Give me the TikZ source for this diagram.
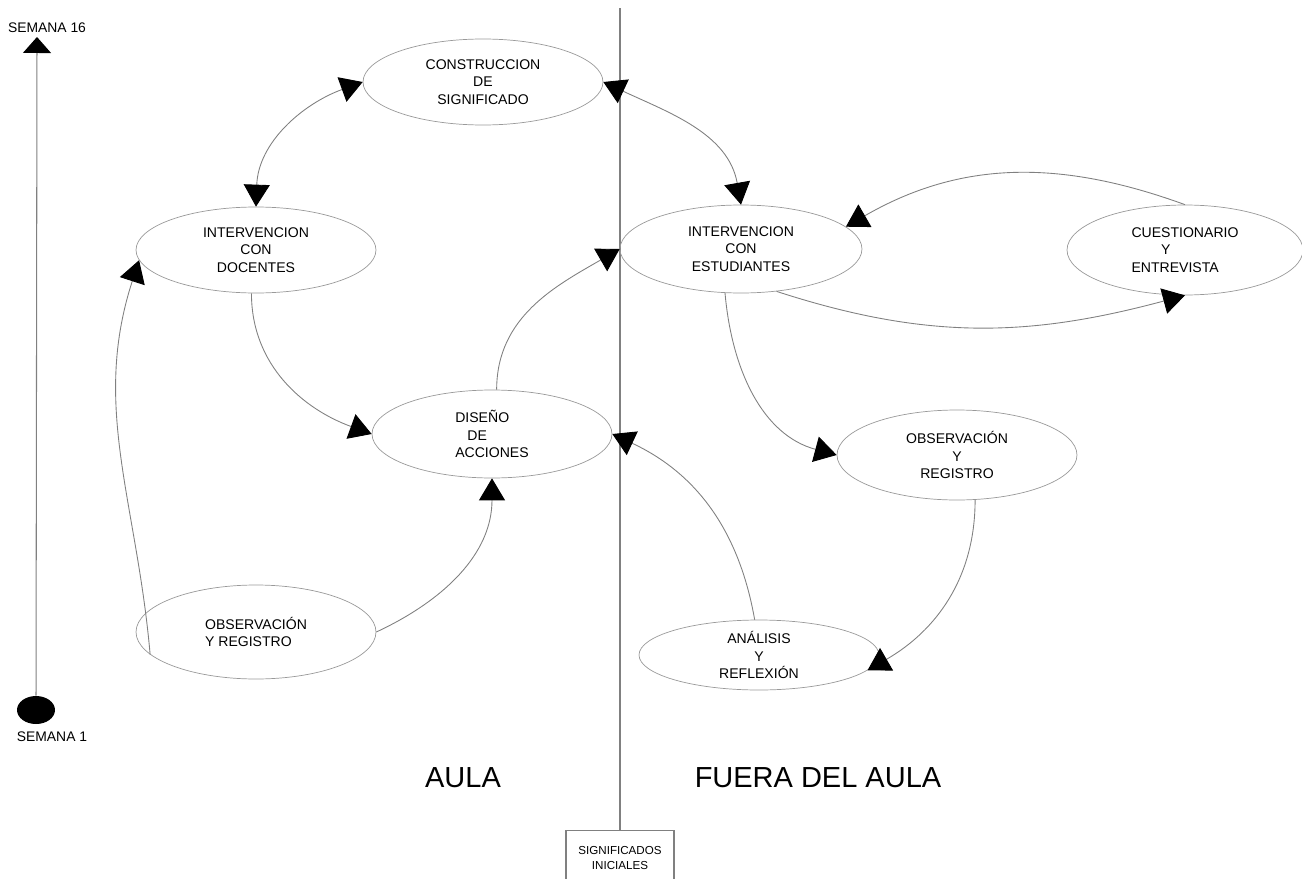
\documentclass[tikz,border=0pt]{standalone}
\usepackage{fontspec}
\setmainfont{Liberation Sans}
\usetikzlibrary{shapes.geometric,arrows.meta}

\begin{document}
\begin{tikzpicture}[x=0.02cm,y=-0.02cm,
  etapa/.style={ellipse, draw=gray!80, line width=0.4pt, minimum width=4.8cm, minimum height=1.72cm, inner sep=0pt, align=center, font=\fontsize{8}{9.8}\selectfont},
  flecha/.style={draw=gray, line width=0.5pt},
  >={Triangle[length=0.44cm,width=0.52cm,color=black]}]

\useasboundingbox (0,0) rectangle (1302,879);

% linea de tiempo
\node[ellipse, fill=black, minimum width=0.76cm, minimum height=0.56cm, inner sep=0pt] (s1) at (36,710) {};
\coordinate (s16) at (37,37);
\draw[gray, line width=0.6pt, -{Triangle[length=0.32cm,width=0.56cm,color=black]}] (s1) -- (s16);
\node[font=\fontsize{7.9}{9.8}\selectfont] (ls16) at (47,28) {SEMANA 16};
\node[font=\fontsize{7.9}{9.8}\selectfont] (ls1) at (52,737) {SEMANA 1};

% division aula / fuera del aula
\node[draw=gray, line width=0.6pt, minimum width=2.16cm, minimum height=1.1cm, align=center, anchor=north, font=\fontsize{6.6}{8.4}\selectfont] (sig) at (620,830) {SIGNIFICADOS\\INICIALES};
\coordinate (top) at (620,8);
\draw[gray, line width=0.9pt] (top) -- (sig.north);

\node[font=\fontsize{16.5}{20}\selectfont] (aula) at (463,778) {AULA};
\node[font=\fontsize{16.5}{20}\selectfont] (fuera) at (818,778) {FUERA DEL AULA};

% etapas
\node[etapa] (cons) at (483,82) {CONSTRUCCION\\DE\\SIGNIFICADO};
\node[etapa] (doc) at (256,250) {INTERVENCION\\CON\\DOCENTES};
\node[etapa, align=left, minimum height=1.76cm] (dis) at (492,434) {DISEÑO\\\hspace{0.86em}DE\\ACCIONES};
\node[etapa, align=left, minimum height=1.88cm] (obsL) at (256,632) {OBSERVACIÓN\\Y REGISTRO};
\node[etapa, minimum width=4.84cm, minimum height=1.76cm] (est) at (741,249) {INTERVENCION\\CON\\ESTUDIANTES};
\node[etapa, align=left, minimum width=4.72cm, minimum height=1.8cm] (cues) at (1185,250) {CUESTIONARIO\\\hspace{2.1em}Y\\ENTREVISTA};
\node[etapa, minimum height=1.8cm] (obsR) at (957,455) {OBSERVACIÓN\\Y\\REGISTRO};
\node[etapa, minimum height=1.4cm] (ana) at (759,655) {ANÁLISIS\\Y\\REFLEXIÓN};

% conexiones
\draw[flecha, <->] (doc.north) to[out=88, in=200] (cons.west);
\draw[flecha, <->] (cons.east) to[out=-25, in=100] (est.north);
\draw[flecha, ->] (doc.-96) to[out=-90, in=160] (dis.west);
\draw[flecha, ->] (dis.84) to[out=90, in=210] (est.west);
\draw[flecha, ->] (obsL.east) to[out=25, in=-90] (dis.south);
\draw[flecha, ->] (obsL.192) to[out=95, in=-108] (doc.185);
\draw[flecha, ->] (est.-50) to[out=-18, in=-165] (cues.south);
\draw[flecha, ->] (cues.north) to[out=160, in=30] (est.12);
\draw[flecha, ->] (est.-110) to[out=-85, in=165] (obsR.west);
\draw[flecha, ->] (obsR.-68) to[out=-90, in=30] (ana.-8);
\draw[flecha, ->] (ana.97) to[out=100, in=-25] (dis.east);

\end{tikzpicture}
\end{document}
